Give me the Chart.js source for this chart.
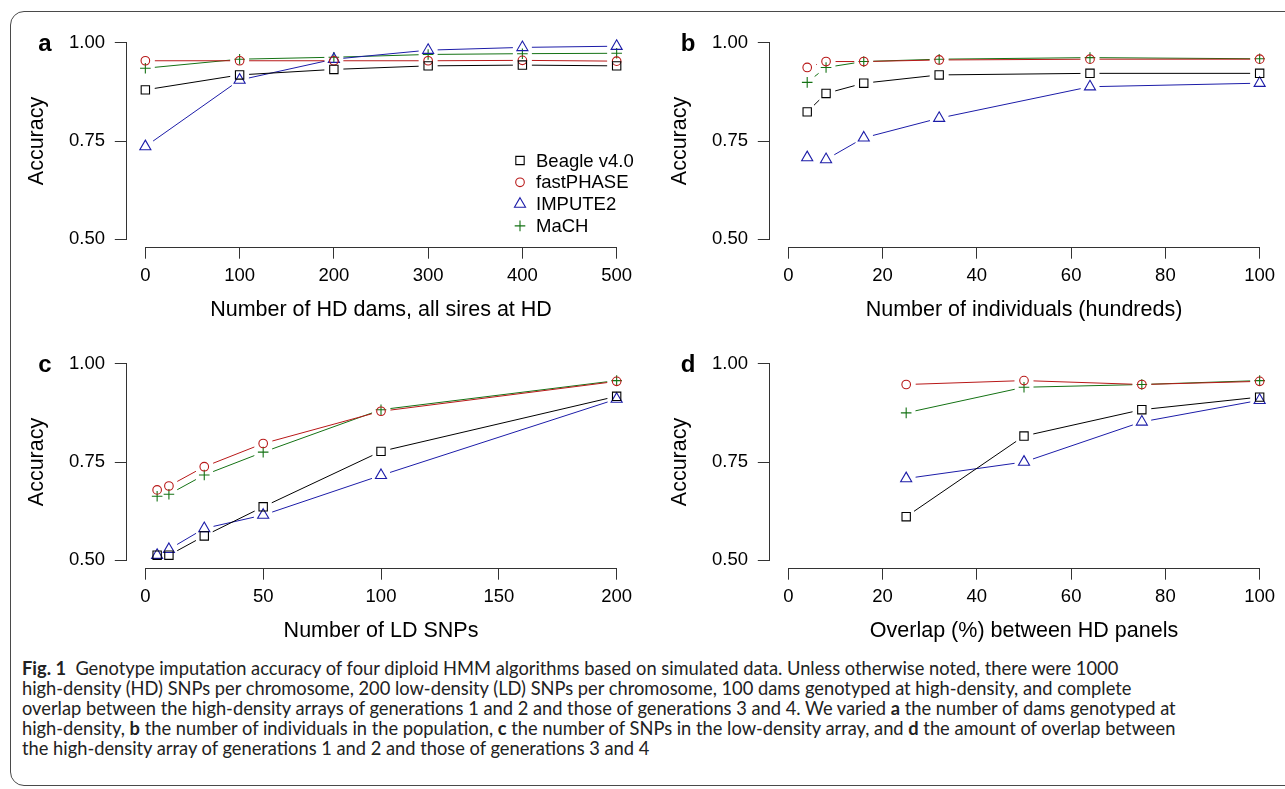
<!DOCTYPE html>
<html>
<head>
<meta charset="utf-8">
<script src="https://cdn.jsdelivr.net/npm/chart.js@4.4.1/dist/chart.umd.min.js"></script>
<style>
html, body { margin: 0; padding: 0; background: #fff; }
body { width: 1285px; height: 789px; position: relative; overflow: hidden; }
.frame { position: absolute; left: 10px; top: 11px; width: 1320px; height: 775px;
         border: 1.3px solid #4a4a4a; border-radius: 14px; box-sizing: border-box; }
.panel { position: absolute; width: 643px; height: 330px; }
.caption { position: absolute; left: 22px; top: 658px; font-family: Lato, "Noto Sans", sans-serif;
           font-size: 18.3px; line-height: 20px; color: #222; white-space: nowrap; }
</style>
</head>
<body>
<div class="frame"></div>
<div class="panel" style="left:0;top:0"><canvas id="panelA" width="643" height="330"></canvas></div>
<div class="panel" style="left:643.2px;top:0"><canvas id="panelB" width="643" height="330"></canvas></div>
<div class="panel" style="left:0;top:321.3px"><canvas id="panelC" width="643" height="330"></canvas></div>
<div class="panel" style="left:643.2px;top:321.3px"><canvas id="panelD" width="643" height="330"></canvas></div>
<div class="caption">
<b>Fig. 1</b>&nbsp; Genotype imputation accuracy of four diploid HMM algorithms based on simulated data. Unless otherwise noted, there were 1000<br>
high-density (HD) SNPs per chromosome, 200 low-density (LD) SNPs per chromosome, 100 dams genotyped at high-density, and complete<br>
overlap between the high-density arrays of generations 1 and 2 and those of generations 3 and 4. We varied <b>a</b> the number of dams genotyped at<br>
high-density, <b>b</b> the number of individuals in the population, <b>c</b> the number of SNPs in the low-density array, and <b>d</b> the amount of overlap between<br>
the high-density array of generations 1 and 2 and those of generations 3 and 4
</div>
<script>
// series
const seriesNames = ['Beagle v4.0', 'fastPHASE', 'IMPUTE2', 'MaCH'];

// a: number of HD dams
const damsX = [0, 100, 200, 300, 400, 500];
const damsBeagle = [0.880, 0.918, 0.932, 0.941, 0.943, 0.941];
const damsFastPhase = [0.954, 0.954, 0.954, 0.954, 0.955, 0.953];
const damsImpute2 = [0.736, 0.905, 0.958, 0.981, 0.988, 0.991];
const damsMach = [0.935, 0.958, 0.963, 0.970, 0.972, 0.973];

// b: number of individuals (hundreds)
const indX = [4, 8, 16, 32, 64, 100];
const indBeagle = [0.824, 0.871, 0.897, 0.918, 0.922, 0.922];
const indFastPhase = [0.937, 0.952, 0.952, 0.956, 0.958, 0.958];
const indImpute2 = [0.708, 0.703, 0.758, 0.808, 0.888, 0.897];
const indMach = [0.899, 0.937, 0.952, 0.958, 0.962, 0.959];

// c: number of LD SNPs
const ldX = [5, 10, 25, 50, 100, 200];
const ldBeagle = [0.513, 0.513, 0.562, 0.636, 0.777, 0.917];
const ldFastPhase = [0.679, 0.689, 0.738, 0.797, 0.879, 0.955];
const ldImpute2 = [0.513, 0.528, 0.581, 0.615, 0.716, 0.910];
const ldMach = [0.663, 0.668, 0.717, 0.775, 0.883, 0.957];

// d: overlap between HD panels
const overlapX = [25, 50, 75, 100];
const overlapBeagle = [0.611, 0.816, 0.883, 0.915];
const overlapFastPhase = [0.947, 0.957, 0.947, 0.955];
const overlapImpute2 = [0.708, 0.750, 0.852, 0.907];
const overlapMach = [0.875, 0.940, 0.947, 0.957];

// ticks
const damsTicks = [0, 100, 200, 300, 400, 500];
const indTicks = [0, 20, 40, 60, 80, 100];
const ldTicks = [0, 50, 100, 150, 200];
const overlapTicks = [0, 20, 40, 60, 80, 100];
const yTicks = [0.50, 0.75, 1.00];
const yTickLabels = ['0.50', '0.75', '1.00'];

const colors = ['#000000', '#b81818', '#1c1ca8', '#147214'];
const styles = ['rect', 'circle', 'triangle', 'cross'];
const radii = [5.9, 4.3, 6.4, 5.3];
const axisColor = '#333';
const GAP = 9.5;

// R type="b": line stops short of each point
function gapDash(c) {
    const L = Math.hypot(c.p1.x - c.p0.x, c.p1.y - c.p0.y);
    if (L <= 2 * GAP) return [0, L + 1];
    return [0, GAP, L - 2 * GAP, GAP];
}

function markPoint(ctx, i, x, y) {
    ctx.save();
    ctx.strokeStyle = colors[i];
    ctx.fillStyle = 'rgba(0,0,0,0)';
    ctx.lineWidth = 1.1;
    Chart.helpers.drawPoint(ctx, {pointStyle: styles[i], radius: radii[i], rotation: 0, borderWidth: 1.1}, x, y);
    ctx.restore();
}

const snap = v => Math.round(v - 0.5) + 0.5;

// detached R-style axis lines, panel letter, legend
const rPanel = {
    id: 'rPanel',
    afterDraw(chart, args, opts) {
        const {ctx, scales: {x, y}} = chart;
        ctx.save();
        ctx.strokeStyle = axisColor;
        ctx.lineWidth = 1;
        ctx.beginPath();
        const by = snap(x.top);
        ctx.moveTo(x.getPixelForValue(x.ticks[0].value), by);
        ctx.lineTo(x.getPixelForValue(x.ticks[x.ticks.length - 1].value), by);
        const lx = snap(y.right);
        ctx.moveTo(lx, y.getPixelForValue(y.ticks[0].value));
        ctx.lineTo(lx, y.getPixelForValue(y.ticks[y.ticks.length - 1].value));
        ctx.stroke();

        ctx.fillStyle = '#000';
        ctx.font = 'bold 24px "Liberation Sans", Arial, sans-serif';
        ctx.textAlign = 'center';
        ctx.textBaseline = 'alphabetic';
        ctx.fillText(opts.letter, 45, 50.6);

        if (opts.legend) {
            ctx.font = '18.5px "Liberation Sans", Arial, sans-serif';
            ctx.textAlign = 'left';
            ctx.textBaseline = 'middle';
            seriesNames.forEach((name, i) => {
                const yy = 160.5 + i * 21.8;
                markPoint(ctx, i, 520, yy);
                ctx.fillStyle = '#000';
                ctx.fillText(name, 536, yy + 1);
            });
        }
        ctx.restore();
    }
};

const tickFont = {family: '"Liberation Sans", Arial, sans-serif', size: 18.5};
const titleFont = {family: '"Liberation Sans", Arial, sans-serif', size: 21.5};

function makePanel(id, letter, xs, series, xTicks, title, legend) {
    const xMin = xTicks[0], xMax = xTicks[xTicks.length - 1];
    const xPad = (xMax - xMin) * 0.04;
    const yPad = (yTicks[yTicks.length - 1] - yTicks[0]) * 0.04;
    const datasets = series.map((vals, i) => ({
        label: seriesNames[i],
        data: xs.map((x, j) => ({x: x, y: vals[j]})),
        showLine: true,
        borderColor: colors[i],
        borderWidth: 1,
        tension: 0,
        pointStyle: styles[i],
        pointRadius: radii[i],
        pointBorderColor: colors[i],
        pointBackgroundColor: 'rgba(0,0,0,0)',
        pointBorderWidth: 1.1,
        segment: {borderDash: gapDash},
        clip: false
    }));
    return new Chart(document.getElementById(id), {
        type: 'scatter',
        data: {datasets: datasets},
        options: {
            responsive: false,
            animation: false,
            events: [],
            layout: {padding: {top: 34.8, right: 4, left: 0, bottom: 0}},
            plugins: {
                legend: {display: false},
                tooltip: {enabled: false},
                rPanel: {letter: letter, legend: legend}
            },
            scales: {
                x: {
                    type: 'linear', bounds: 'data',
                    min: xMin - xPad, max: xMax + xPad,
                    afterBuildTicks: s => { s.ticks = xTicks.map(v => ({value: v})); },
                    afterFit: s => { s.height = 82.8; },
                    grid: {drawOnChartArea: false, tickLength: 11.5, color: axisColor, lineWidth: 1},
                    border: {display: false},
                    ticks: {font: tickFont, color: '#000', padding: 6, maxRotation: 0, autoSkip: false},
                    title: {display: true, text: title, font: titleFont, color: '#000', padding: {top: 0, bottom: 7.1}}
                },
                y: {
                    type: 'linear', bounds: 'data',
                    min: yTicks[0] - yPad, max: yTicks[yTicks.length - 1] + yPad,
                    afterBuildTicks: s => { s.ticks = yTicks.map(v => ({value: v})); },
                    afterFit: s => { s.width = 126.5; },
                    grid: {drawOnChartArea: false, tickLength: 11.7, color: axisColor, lineWidth: 1},
                    border: {display: false},
                    ticks: {font: tickFont, color: '#000', padding: 9.8, callback: (v, i) => yTickLabels[i]},
                    title: {display: true, text: 'Accuracy', font: titleFont, color: '#000', padding: {top: 24.4, bottom: 0}}
                }
            }
        },
        plugins: [rPanel]
    });
}

makePanel('panelA', 'a', damsX, [damsBeagle, damsFastPhase, damsImpute2, damsMach],
    damsTicks, 'Number of HD dams, all sires at HD', true);
makePanel('panelB', 'b', indX, [indBeagle, indFastPhase, indImpute2, indMach],
    indTicks, 'Number of individuals (hundreds)', false);
makePanel('panelC', 'c', ldX, [ldBeagle, ldFastPhase, ldImpute2, ldMach],
    ldTicks, 'Number of LD SNPs', false);
makePanel('panelD', 'd', overlapX, [overlapBeagle, overlapFastPhase, overlapImpute2, overlapMach],
    overlapTicks, 'Overlap (%) between HD panels', false);
</script>
</body>
</html>
